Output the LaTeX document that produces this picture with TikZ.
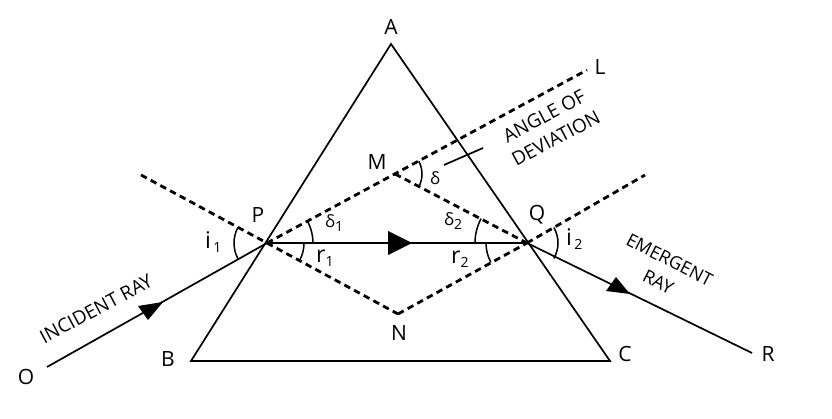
\documentclass[tikz,border=0pt]{standalone}
\usetikzlibrary{calc}
\usepackage{fontspec}
\setmainfont{Open Sans}
\newcommand{\lsub}[1]{\raisebox{-4pt}{\fontsize{14}{14}\selectfont #1}}
\tikzset{
  solidline/.style={draw=black,line width=1.7pt},
  dashline/.style={draw=black,line width=2.8pt,dash pattern=on 6.5pt off 4.5pt},
  thinarc/.style={draw=black,line width=1.5pt},
  head/.style={fill=black,draw=none},
  lbl/.style={font=\fontsize{21}{21}\selectfont,inner sep=0pt,text=black},
  biglbl/.style={font=\fontsize{23}{23}\selectfont,inner sep=0pt,text=black},
  glbl/.style={font=\fontsize{17}{17}\selectfont,inner sep=0pt,text=black},
  captext/.style={font=\fontsize{19}{25}\selectfont,inner sep=0pt,text=black,align=center},
  capsmall/.style={font=\fontsize{18}{25}\selectfont,inner sep=0pt,text=black,align=center},
}
\begin{document}
\begin{tikzpicture}[x=1pt,y=1pt]
\useasboundingbox (0,0) rectangle (832,418);
\coordinate (Av) at (391,374);
\coordinate (Bv) at (191,57);
\coordinate (Cv) at (610,57);
\coordinate (Pv) at (267,175);
\coordinate (Qv) at (527,175);
\coordinate (Mv) at (395,244);
\coordinate (Nv) at (398,104);
\coordinate (Lv) at (587,348);
\coordinate (Dl) at (141,243);
\coordinate (Dr) at (645,243);
\coordinate (Ov) at (47,51);
\coordinate (Rv) at (752,65);
\coordinate (T1) at (444,253);
\coordinate (T2) at (483,270);
% prism and rays
\draw[solidline] (Av) -- (Bv) -- (Cv) -- cycle;
\draw[solidline] (Ov) -- (Pv) -- (Qv) -- (Rv);
\draw[solidline] (T1) -- (T2);
% dashed construction
\draw[dashline] (Dl) -- (Pv);
\draw[dashline] (Pv) -- (Nv);
\draw[dashline] (Nv) -- (Qv);
\draw[dashline] (Qv) -- (Dr);
\draw[dashline] (Pv) -- (Lv);
\draw[dashline] (Mv) -- (Qv);
% arrowheads
\fill[head] (163,116) -- (138,112) -- (148,98) -- cycle;
\fill[head] (412,175) -- (388,187) -- (388,163) -- cycle;
\fill[head] (630,124) -- (616,141) -- (606,127) -- cycle;
% angle arcs
\draw[thinarc] ($(Pv)+(151.6:33pt)$) arc[start angle=151.6,end angle=209.4,radius=33pt];
\draw[thinarc] ($(Pv)+(28:46pt)$) arc[start angle=28,end angle=0,radius=46pt];
\draw[thinarc] ($(Pv)+(0:37pt)$) arc[start angle=0,end angle=-28,radius=37pt];
\draw[thinarc] ($(Qv)+(152:52pt)$) arc[start angle=152,end angle=180,radius=52pt];
\draw[thinarc] ($(Qv)+(180:41pt)$) arc[start angle=180,end angle=208,radius=41pt];
\draw[thinarc] ($(Qv)+(30:31pt)$) arc[start angle=30,end angle=-30,radius=31pt];
\draw[thinarc] ($(Mv)+(28:27pt)$) arc[start angle=28,end angle=-28,radius=27pt];
% letters
\node[lbl] (la) at (391,391) {A};
\node[lbl] (lb) at (168,59) {B};
\node[lbl] (lc) at (625,64) {C};
\node[lbl] (lo) at (26,41) {O};
\node[lbl] (lr) at (768,64) {R};
\node[lbl] (ll) at (600,351) {L};
\node[lbl] (lp) at (258,203) {P};
\node[lbl] (lq) at (537,203) {Q};
\node[lbl] (lm) at (377,256) {M};
\node[lbl] (ln) at (399,85) {N};
% angle labels
\node[biglbl,anchor=base west] (li1) at (205,169) {i\lsub{\,1}};
\node[biglbl,anchor=base west] (li2) at (566,172) {i\lsub{\,2}};
\node[biglbl,anchor=base west] (lr1) at (316,156) {r\lsub{1}};
\node[biglbl,anchor=base west] (lr2) at (451,155) {r\lsub{2}};
\node[glbl,anchor=base west] (ld1) at (325,190) {δ\lsub{1}};
\node[glbl,anchor=base west] (ld2) at (444,192) {δ\lsub{2}};
\node[glbl] (ld) at (435,240) {δ};
% captions
\node[captext,rotate=28] (ci) at (96,109) {INCIDENT RAY};
\node[captext,rotate=28] (ca) at (550,291) {ANGLE OF\\DEVIATION};
\node[capsmall,rotate=-27] (ce) at (664,147) {EMERGENT\\RAY};
\end{tikzpicture}
\end{document}
